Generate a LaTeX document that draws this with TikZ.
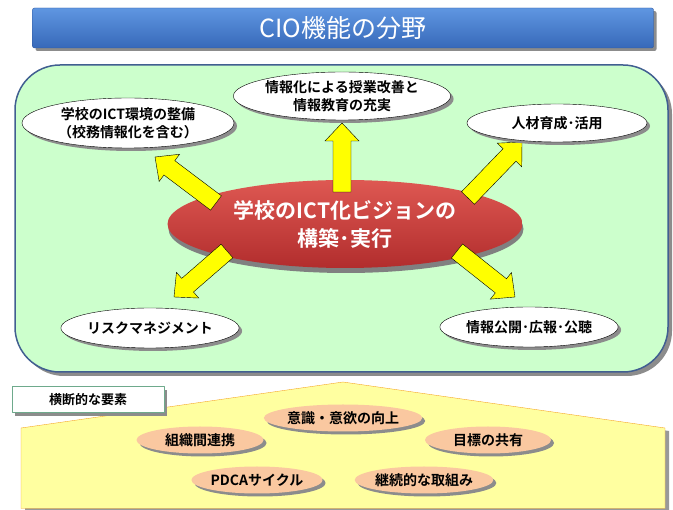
\documentclass[tikz,border=0pt]{standalone}
\usepackage{fontspec}
\setmainfont{Noto Sans CJK JP}
\newfontfamily\jpbold{Noto Sans CJK JP Bold}
\usepackage{tikz}
\usetikzlibrary{shapes.geometric,shadows,calc}

\definecolor{titletop}{RGB}{95,150,225}
\definecolor{titlebot}{RGB}{55,105,185}
\definecolor{titleline}{RGB}{45,85,155}
\definecolor{boxgreen}{RGB}{204,255,204}
\definecolor{boxline}{RGB}{65,95,145}
\definecolor{visiontop}{RGB}{222,88,82}
\definecolor{visionbot}{RGB}{178,45,45}
\definecolor{arrowyellow}{RGB}{255,255,0}
\definecolor{housefill}{RGB}{255,255,160}
\definecolor{houseline}{RGB}{245,165,40}
\definecolor{peach}{RGB}{250,200,160}
\definecolor{tagline}{RGB}{110,170,140}

\tikzset{
  shade3/.style={drop shadow={shadow xshift=3pt,shadow yshift=-3pt,fill=black!45,opacity=1}},
  titlebar/.style={rectangle,rounded corners=2pt,draw=titleline,top color=titletop,bottom color=titlebot,
    minimum width=621pt,minimum height=40pt,text=white,font=\fontsize{25}{25}\selectfont,shade3},
  fieldbox/.style={draw=boxline,line width=1.5pt,fill=boxgreen,rounded corners=45pt,
    drop shadow={shadow xshift=4pt,shadow yshift=-4pt,fill=black!45,opacity=1}},
  vision/.style={ellipse,inner sep=0pt,minimum width=355pt,minimum height=88pt,top color=visiontop,
    bottom color=visionbot,text=white,align=center,font=\fontsize{21}{28}\selectfont\jpbold,
    drop shadow={shadow xshift=1pt,shadow yshift=-5pt,fill=black!50,opacity=1}},
  field/.style={ellipse,draw=black,fill=white,inner sep=0pt,align=center,
    font=\fontsize{14}{18}\selectfont\jpbold,shade3},
  yarrow/.style={draw=black,fill=arrowyellow,line join=miter},
  house/.style={draw=houseline,fill=housefill,line join=miter,
    drop shadow={shadow xshift=4pt,shadow yshift=-3pt,fill=black!40,opacity=1}},
  tag/.style={rectangle,draw=tagline,line width=1pt,fill=white,minimum width=152pt,minimum height=26pt,
    font=\fontsize{13}{13}\selectfont\jpbold,shade3},
  factor/.style={ellipse,fill=peach,inner sep=0pt,minimum height=27pt,
    font=\fontsize{14}{14}\selectfont\jpbold,shade3}
}

% block arrow from #1 to the tip #2
\newcommand{\blockarrow}[2]{%
  \coordinate (hb) at ($(#2)!18pt!(#1)$);
  \draw[yarrow] ($(#1)!9pt!90:(#2)$) -- ($(hb)!9pt!90:(#2)$) -- ($(hb)!17pt!90:(#2)$) -- (#2)
    -- ($(hb)!17pt!-90:(#2)$) -- ($(hb)!9pt!-90:(#2)$) -- ($(#1)!9pt!-90:(#2)$) -- cycle;}

\begin{document}
\begin{tikzpicture}[x=1pt,y=-1pt,line cap=round,line join=round]
\useasboundingbox (0,0) rectangle (673,510);

\node[titlebar] (title) at (343,28) {CIO機能の分野};

\draw[fieldbox] (15,65) rectangle (668,372);

\node[vision] (vision) at (345,224) {学校のICT化ビジョンの\\構築･実行};

\coordinate (a1s) at (216,203);
\coordinate (a1e) at (155,157);
\coordinate (a2s) at (342,192);
\coordinate (a2e) at (342,123);
\coordinate (a3s) at (468,198);
\coordinate (a3e) at (522,142);
\coordinate (a4s) at (227,251);
\coordinate (a4e) at (174,297);
\coordinate (a5s) at (457,251);
\coordinate (a5e) at (515,297);
\blockarrow{a1s}{a1e}
\blockarrow{a2s}{a2e}
\blockarrow{a3s}{a3e}
\blockarrow{a4s}{a4e}
\blockarrow{a5s}{a5e}

\node[field,minimum width=212pt,minimum height=50pt] (env) at (128,123) {学校のICT環境の整備\\（校務情報化を含む）};
\node[field,minimum width=194pt,minimum height=48pt] (lesson) at (342,96) {情報化による授業改善と\\情報教育の充実};
\node[field,minimum width=180pt,minimum height=38pt] (staff) at (557,123) {人材育成･活用};
\node[field,minimum width=158pt,minimum height=40pt] (risk) at (150,328) {リスクマネジメント};
\node[field,minimum width=174pt,minimum height=40pt] (pr) at (529,327) {情報公開･広報･公聴};

% lower part
\draw[house] (21,508.5) -- (21,428) -- (343,382) -- (665,428) -- (665,508.5) -- cycle;
\node[tag] (tag) at (88,400) {横断的な要素};

\node[factor,minimum width=127pt] (soshiki) at (200,440) {組織間連携};
\node[factor,minimum width=141pt] (ishiki) at (343,418) {意識・意欲の向上};
\node[factor,minimum width=126pt] (mokuhyo) at (488,440) {目標の共有};
\node[factor,minimum width=125pt] (pdca) at (257,480) {PDCAサイクル};
\node[factor,minimum width=127pt] (keizoku) at (424,480) {継続的な取組み};
\end{tikzpicture}
\end{document}
